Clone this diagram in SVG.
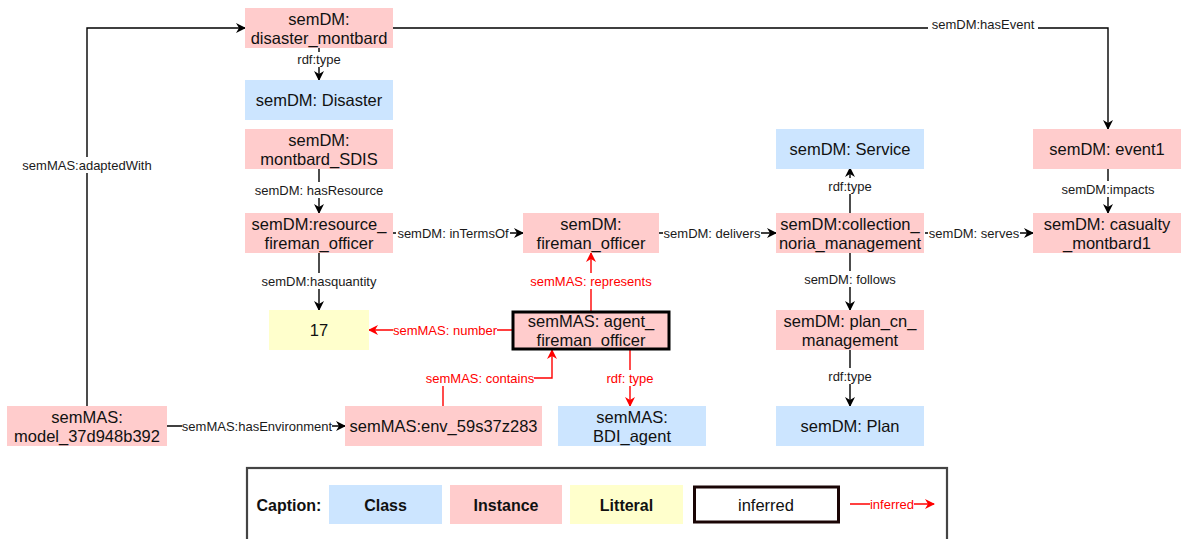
<svg xmlns="http://www.w3.org/2000/svg" width="1183" height="539" viewBox="0 0 1183 539">
<defs>
<marker id="ah" viewBox="0 0 10 10" refX="9" refY="5" markerWidth="10" markerHeight="10" markerUnits="userSpaceOnUse" orient="auto">
<path d="M0,0 L10,5 L0,10 L3,5 z" fill="#000"/>
</marker>
<marker id="ahr" viewBox="0 0 10 10" refX="9" refY="5" markerWidth="10" markerHeight="10" markerUnits="userSpaceOnUse" orient="auto">
<path d="M0,0 L10,5 L0,10 L3,5 z" fill="#ff0000"/>
</marker>
<style>
.cls{fill:#cce5ff}
.ins{fill:#ffcccc}
.lit{fill:#ffffcc}
.nt{font-family:"Liberation Sans",Arial,sans-serif;font-size:16.5px;fill:#111;text-anchor:middle;dominant-baseline:central}
.e{fill:none;stroke:#000;stroke-width:1.4;marker-end:url(#ah)}
.er{fill:none;stroke:#ff0000;stroke-width:1.4;marker-end:url(#ahr)}
.lb{fill:#fff}
.l{font-family:"Liberation Sans",Arial,sans-serif;font-size:13px;fill:#1a1a1a;text-anchor:middle;dominant-baseline:central}
.lr{fill:#ff0000}
.lg{font-family:"Liberation Sans",Arial,sans-serif;font-size:16px;font-weight:bold;fill:#111;text-anchor:middle;dominant-baseline:central}
</style>
</defs>
<rect width="1183" height="539" fill="#fff"/>

<g id="connectors">
<path class="e" d="M87,406 V28 H245"/>
<rect class="lb" x="15" y="157" width="144" height="16"/>
<text class="l" x="87" y="165">semMAS:adaptedWith</text>
<path class="e" d="M393,28 H1108 V129"/>
<rect class="lb" x="928" y="16" width="110" height="16"/>
<text class="l" x="983" y="24">semDM:hasEvent</text>
<path class="e" d="M319,48 V80"/>
<rect class="lb" x="297" y="52" width="44" height="15"/>
<text class="l" x="319" y="59">rdf:type</text>
<path class="e" d="M319,168 V213"/>
<rect class="lb" x="251" y="182" width="136" height="16"/>
<text class="l" x="319" y="190">semDM: hasResource</text>
<path class="e" d="M319,253 V310"/>
<rect class="lb" x="261" y="273" width="116" height="16"/>
<text class="l" x="319" y="281">semDM:hasquantity</text>
<path class="e" d="M393,233 H523"/>
<rect class="lb" x="396" y="225" width="114" height="16"/>
<text class="l" x="453" y="233">semDM: inTermsOf</text>
<path class="e" d="M659,233 H776"/>
<rect class="lb" x="663" y="225" width="98" height="16"/>
<text class="l" x="712" y="233">semDM: delivers</text>
<path class="e" d="M925,233 H1033"/>
<rect class="lb" x="928" y="225" width="92" height="16"/>
<text class="l" x="974" y="233">semDM: serves</text>
<path class="e" d="M850,213 V168"/>
<rect class="lb" x="828" y="178" width="44" height="16"/>
<text class="l" x="850" y="186">rdf:type</text>
<path class="e" d="M850,253 V310"/>
<rect class="lb" x="803" y="271" width="94" height="16"/>
<text class="l" x="850" y="279">semDM: follows</text>
<path class="e" d="M850,349 V406"/>
<rect class="lb" x="828" y="368" width="44" height="16"/>
<text class="l" x="850" y="376">rdf:type</text>
<path class="e" d="M1108,168 V213"/>
<rect class="lb" x="1061" y="181" width="94" height="16"/>
<text class="l" x="1108" y="189">semDM:impacts</text>
<path class="e" d="M167,426 H345"/>
<rect class="lb" x="182" y="418" width="150" height="16"/>
<text class="l" x="257" y="426">semMAS:hasEnvironment</text>
<path class="er" d="M591,311 V253"/>
<rect class="lb" x="530" y="273" width="122" height="16"/>
<text class="l lr" x="591" y="281">semMAS: represents</text>
<path class="er" d="M512,330 H369"/>
<rect class="lb" x="393" y="322" width="104" height="16"/>
<text class="l lr" x="445" y="330">semMAS: number</text>
<path class="er" d="M443,406 V378 H552 V350"/>
<rect class="lb" x="426" y="370" width="108" height="16"/>
<text class="l lr" x="480" y="378">semMAS: contains</text>
<path class="er" d="M630,350 V406"/>
<rect class="lb" x="606" y="370" width="48" height="16"/>
<text class="l lr" x="630" y="378">rdf: type</text>
</g>

<g id="disaster_montbard"><rect class="ins" x="245" y="8" width="148" height="40"/><text class="nt" x="319" y="18.5">semDM:</text><text class="nt" x="319" y="37.5">disaster_montbard</text></g>
<g id="Disaster"><rect class="cls" x="245" y="80" width="148" height="40"/><text class="nt" x="319" y="100">semDM: Disaster</text></g>
<g id="montbard_SDIS"><rect class="ins" x="245" y="129" width="148" height="40"/><text class="nt" x="319" y="139.5">semDM:</text><text class="nt" x="319" y="158.5">montbard_SDIS</text></g>
<g id="resource_fireman_officer"><rect class="ins" x="245" y="213" width="148" height="40"/><text class="nt" x="319" y="223.5">semDM:resource_</text><text class="nt" x="319" y="242.5">fireman_officer</text></g>
<g id="lit17"><rect class="lit" x="269" y="310" width="100" height="40"/><text class="nt" x="319" y="330">17</text></g>
<g id="fireman_officer"><rect class="ins" x="523" y="213" width="136" height="40"/><text class="nt" x="591" y="223.5">semDM:</text><text class="nt" x="591" y="242.5">fireman_officer</text></g>
<g id="agent_fireman_officer"><rect class="ins" x="513" y="312" width="156" height="37" stroke="#000" stroke-width="3"/><text class="nt" x="591" y="321">semMAS: agent_</text><text class="nt" x="591" y="340">fireman_officer</text></g>
<g id="BDI_agent"><rect class="cls" x="558" y="406" width="148" height="40"/><text class="nt" x="632" y="416.5">semMAS:</text><text class="nt" x="632" y="435.5">BDI_agent</text></g>
<g id="env"><rect class="ins" x="345" y="406" width="197" height="40"/><text class="nt" x="443.5" y="426">semMAS:env_59s37z283</text></g>
<g id="model"><rect class="ins" x="7" y="406" width="160" height="40"/><text class="nt" x="87" y="416.5">semMAS:</text><text class="nt" x="87" y="435.5">model_37d948b392</text></g>
<g id="Service"><rect class="cls" x="776" y="129" width="148" height="40"/><text class="nt" x="850" y="149">semDM: Service</text></g>
<g id="collection_noria_management"><rect class="ins" x="776" y="213" width="148" height="40"/><text class="nt" x="850" y="223.5">semDM:collection_</text><text class="nt" x="850" y="242.5">noria_management</text></g>
<g id="plan_cn_management"><rect class="ins" x="776" y="310" width="148" height="40"/><text class="nt" x="850" y="320.5">semDM: plan_cn_</text><text class="nt" x="850" y="339.5">management</text></g>
<g id="Plan"><rect class="cls" x="776" y="406" width="148" height="40"/><text class="nt" x="850" y="426">semDM: Plan</text></g>
<g id="event1"><rect class="ins" x="1033" y="129" width="148" height="40"/><text class="nt" x="1107" y="149">semDM: event1</text></g>
<g id="casualty_montbard1"><rect class="ins" x="1033" y="213" width="148" height="40"/><text class="nt" x="1107" y="223.5">semDM: casualty</text><text class="nt" x="1107" y="242.5">_montbard1</text></g>

<g id="caption">
<rect x="247" y="468" width="700" height="80" fill="#fff" stroke="#444" stroke-width="2.2"/>
<text class="lg" x="289" y="505">Caption:</text>
<rect class="cls" x="329" y="485" width="113" height="39"/><text class="lg" x="385.5" y="505">Class</text>
<rect class="ins" x="450" y="485" width="112" height="39"/><text class="lg" x="506" y="505">Instance</text>
<rect class="lit" x="570" y="485" width="113" height="39"/><text class="lg" x="626.5" y="505">Litteral</text>
<rect x="694.5" y="487" width="144" height="35" fill="#fff" stroke="#1a0505" stroke-width="3"/><text class="nt" x="766" y="505">inferred</text>
<path class="er" d="M850,504 H934"/>
<rect class="lb" x="870" y="497" width="44" height="14"/>
<text class="l lr" x="892" y="504" font-size="12">inferred</text>
</g>
</svg>
